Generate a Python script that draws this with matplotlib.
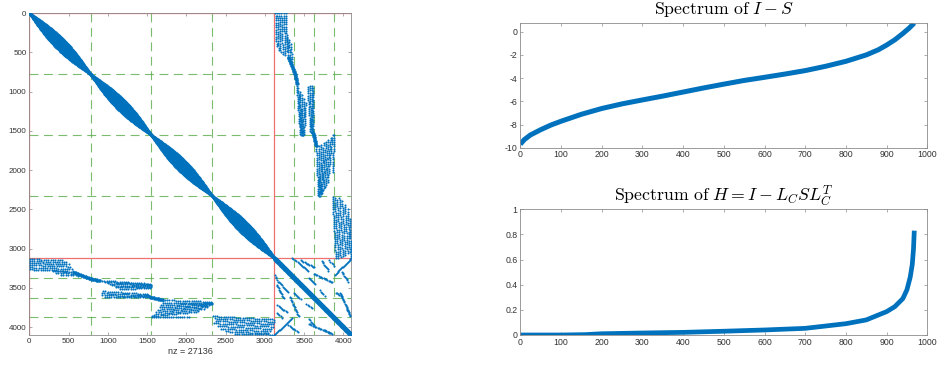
import numpy as np
import matplotlib
matplotlib.use("Agg")
import matplotlib.pyplot as plt

plt.rcParams['font.family'] = ['Liberation Sans', 'DejaVu Sans']
plt.rcParams['mathtext.fontset'] = 'cm'
plt.rcParams['axes.unicode_minus'] = False

BLUE = '#0072BD'
AXC = '#8c8c8c'
TXT = '#333333'

# ---------------- spy-plot structure (matrix coordinates) ----------------
N = 4100
split = 3122
blocks_A = [0, 782, 1552, 2325, 3122]
blocks_B = [3122, 3375, 3630, 3875, 4100]
lens_halfwidth = [48, 48, 48, 48]
lens_fracs = [-1.0, -0.6, -0.25, 0.0, 0.25, 0.6, 1.0]
nz_label = "nz = 27136"

# streaks of the upper-right coupling block: (col_top, row_top, col_bottom, row_bottom)
streak_ct = [3135, 3160, 3185, 3210, 3240, 3265, 3285, 3308, 3332,
             3405, 3425, 3445, 3470, 3495, 3520, 3545, 3570, 3595, 3618,
             3655, 3690, 3720, 3750, 3780, 3810, 3840, 3862, 3878,
             3862, 3890, 3920, 3950, 3985, 4020, 4055, 4085]
streak_rt = [5, 5, 5, 5, 5, 5, 300, 340, 400,
             900, 960, 1000, 1050, 1100, 1150, 940, 930, 930, 960,
             1700, 1700, 1680, 1660, 1640, 1620, 1590, 1560, 1560,
             2340, 2360, 2380, 2350, 2400, 2440, 2500, 2620]
streak_cb = [3150, 3175, 3200, 3230, 3262, 3285, 3300, 3320, 3345,
             3450, 3460, 3470, 3480, 3490, 3500, 3580, 3595, 3605, 3615,
             3680, 3690, 3700, 3710, 3725, 3745, 3770, 3800, 3870,
             3905, 3935, 3965, 3995, 4025, 4055, 4080, 4096]
streak_rb = [420, 470, 500, 520, 540, 480, 560, 560, 620,
             1540, 1550, 1555, 1555, 1550, 1540, 1500, 1510, 1520, 1500,
             2320, 2330, 2325, 2310, 2290, 2260, 2220, 2150, 2030,
             3120, 3120, 3110, 3100, 3080, 3060, 3040, 3120]

# dense connecting tails between fans
tail_c0 = [3300, 3385, 3600, 3620]
tail_r0 = [560, 780, 1515, 1550]
tail_c1 = [3385, 3410, 3625, 3655]
tail_r1 = [780, 900, 1550, 1700]

# short streaks in the lower-right block (upper triangle)
seg_c0 = [3340, 3460, 3820, 3890, 3620, 3960, 4040, 3430, 3560, 3725, 3900, 3980, 3700]
seg_r0 = [3125, 3150, 3150, 3340, 3320, 3560, 3760, 3180, 3370, 3160, 3560, 3300, 3530]
seg_c1 = [3420, 3630, 3880, 4090, 3860, 4075, 4090, 3550, 3640, 3810, 3980, 4060, 3760]
seg_r1 = [3170, 3240, 3220, 3130, 3430, 3830, 3860, 3290, 3455, 3280, 3620, 3420, 3600]

# ---------------- spectra ----------------
spec1_x = [0, 10, 25, 50, 75, 100, 150, 200, 250, 300, 350, 400, 450, 500, 550,
           600, 650, 700, 750, 800, 850, 880, 900, 920, 940, 955, 968]
spec1_y = [-9.7, -9.3, -8.9, -8.45, -8.05, -7.72, -7.12, -6.62, -6.22, -5.88, -5.55,
           -5.2, -4.85, -4.52, -4.2, -3.93, -3.65, -3.35, -2.98, -2.55, -2.0, -1.55,
           -1.15, -0.7, -0.15, 0.3, 0.75]
spec2_x = [0, 100, 160, 200, 300, 400, 500, 600, 700, 800, 850, 900, 920, 940,
           950, 958, 963, 966, 968]
spec2_y = [0.0, 0.0, 0.003, 0.01, 0.016, 0.021, 0.03, 0.04, 0.053, 0.09, 0.12,
           0.186, 0.225, 0.29, 0.36, 0.46, 0.56, 0.68, 0.83]


def dots(c0, r0, c1, r1, step):
    L = np.hypot(c1 - c0, r1 - r0)
    n = max(int(L / step), 2)
    s = np.linspace(0, 1, n)
    return c0 + (c1 - c0) * s, r0 + (r1 - r0) * s


# ---------------- build points ----------------
pts_c, pts_r = [], []

for k in range(len(blocks_A) - 1):
    a, b = blocks_A[k], blocks_A[k + 1]
    d = np.arange(a, b, 4.0)
    t = (d - a) / (b - a)
    w = lens_halfwidth[k] * np.sin(np.pi * t)
    for f in lens_fracs:
        pts_c.append(d + f * w)
        pts_r.append(d - f * w)

d = np.arange(split, N, 3.0)
for off in (-10, 0, 10):
    pts_c.append(d + off)
    pts_r.append(d - off)

off_c, off_r = [], []
for a, b, c, e in zip(streak_ct, streak_rt, streak_cb, streak_rb):
    x, y = dots(a, b, c, e, 26)
    off_c.append(x); off_r.append(y)
for a, b, c, e in zip(tail_c0, tail_r0, tail_c1, tail_r1):
    for o in (-8, 8):
        x, y = dots(a + o, b, c + o, e, 8)
        off_c.append(x); off_r.append(y)
for a, b, c, e in zip(seg_c0, seg_r0, seg_c1, seg_r1):
    x, y = dots(a, b, c, e, 16)
    off_c.append(x); off_r.append(y)

oc = np.concatenate(off_c); orr = np.concatenate(off_r)
pts_c += [oc, orr]
pts_r += [orr, oc]
C = np.concatenate(pts_c); R = np.concatenate(pts_r)

# ---------------- figure ----------------
fig = plt.figure(figsize=(9.39, 3.66), dpi=100)

ax = fig.add_axes([29.3 / 939, 31 / 366, 322 / 939, 322 / 366])
ax.plot(C, R, 'o', ms=1.5, mew=0, color=BLUE, zorder=3)
lim = N + 1
grn = dict(color='#5aac4a', lw=0.8, ls=(0, (8, 5)), alpha=0.8, zorder=2)
for v in blocks_A[1:-1] + blocks_B[1:-1]:
    ax.plot([v, v], [0, lim], **grn)
    ax.plot([0, lim], [v, v], **grn)
red = dict(color='#f07070', lw=0.9, zorder=2.5)
for v in (0, split):
    ax.plot([v, v], [0, lim], **red)
    ax.plot([0, lim], [v, v], **red)
ax.set_xlim(0, lim)
ax.set_ylim(lim, 0)
ax.set_xticks(range(0, 4001, 500))
ax.set_yticks(range(0, 4001, 500))
ax.set_xlabel(nz_label, fontsize=6.5, color=TXT, labelpad=1.5)


def style(a, fs):
    for s in a.spines.values():
        s.set_color(AXC)
        s.set_linewidth(0.6)
    a.tick_params(direction='in', length=2.2, width=0.5, color=AXC,
                  labelsize=fs, labelcolor=TXT, top=True, right=True, pad=2)


style(ax, 5.8)

ax1 = fig.add_axes([520.3 / 939, (366 - 147.7) / 366, 407 / 939, 125 / 366])
ax1.plot(spec1_x, spec1_y, color=BLUE, lw=3.6, solid_capstyle='butt')
ax1.set_xlim(0, 1000)
ax1.set_ylim(-10, 0.78)
ax1.set_xticks(range(0, 1001, 100))
ax1.set_yticks(range(-10, 1, 2))
ax1.set_title(r'$\mathrm{Spectrum\ of}\ I - S$', fontsize=12.8, pad=6)
style(ax1, 6.3)

ax2 = fig.add_axes([520.3 / 939, (366 - 335) / 366, 407 / 939, 125.7 / 366])
ax2.plot(spec2_x, spec2_y, color=BLUE, lw=3.4, solid_capstyle='butt')
ax2.set_xlim(0, 1000)
ax2.set_ylim(0, 1)
ax2.set_xticks(range(0, 1001, 100))
ax2.set_yticks([0, 0.2, 0.4, 0.6, 0.8, 1])
ax2.set_yticklabels(['0', '0.2', '0.4', '0.6', '0.8', '1'])
ax2.set_title(r'$\mathrm{Spectrum\ of}\ H = I - L_C S L_C^T$', fontsize=12.8, pad=6)
style(ax2, 6.3)

fig.savefig('out.png', dpi=100)
